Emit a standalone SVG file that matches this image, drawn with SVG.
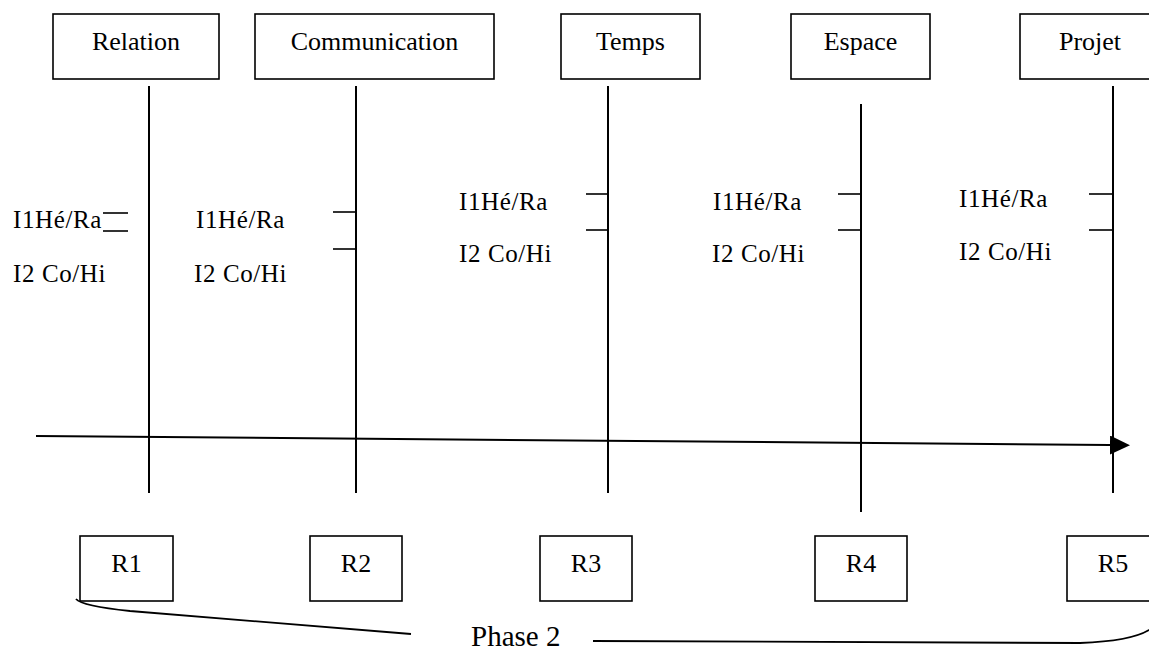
<svg xmlns="http://www.w3.org/2000/svg" width="1149" height="652" viewBox="0 0 1149 652">
  <style>
    .box { fill: #fff; stroke: #000; stroke-width: 1.6; }
    .head { font-family: "Liberation Serif", "Times New Roman", serif; font-size: 26px; fill: #000; text-anchor: middle; }
    .lbl { font-family: "Liberation Serif", "Times New Roman", serif; font-size: 25px; fill: #000; letter-spacing: 0.6px; }
    .phase { font-family: "Liberation Serif", "Times New Roman", serif; font-size: 29px; fill: #000; }
    .axis { stroke: #000; stroke-width: 2; fill: none; }
    .tick { stroke: #000; stroke-width: 1.6; fill: none; }
    .brace { stroke: #000; stroke-width: 1.8; fill: none; }
  </style>
  <defs>
    <marker id="arrowhead" markerUnits="userSpaceOnUse" markerWidth="22" markerHeight="22" refX="0" refY="9.5" orient="auto">
      <path d="M0,0 L20,9.5 L0,19 Z" fill="#000"/>
    </marker>
  </defs>

  <rect width="1149" height="652" fill="#fff"/>

  <!-- header dimensions -->
  <g id="relation">
    <rect class="box" x="53" y="14" width="166" height="65"/>
    <text class="head" x="136" y="50">Relation</text>
  </g>
  <g id="communication">
    <rect class="box" x="255" y="14" width="239" height="65"/>
    <text class="head" x="374.5" y="50">Communication</text>
  </g>
  <g id="temps">
    <rect class="box" x="561" y="14" width="139" height="65"/>
    <text class="head" x="630.5" y="50">Temps</text>
  </g>
  <g id="espace">
    <rect class="box" x="791" y="14" width="139" height="65"/>
    <text class="head" x="860.5" y="50">Espace</text>
  </g>
  <g id="projet">
    <rect class="box" x="1020" y="14" width="140" height="65"/>
    <text class="head" x="1090" y="50">Projet</text>
  </g>

  <!-- timelines, ticks, axis and the phase brace -->
  <g id="connectors">
    <line class="axis" x1="149" y1="86" x2="149" y2="493"/>
    <line class="axis" x1="356" y1="86" x2="356" y2="493"/>
    <line class="axis" x1="608" y1="86" x2="608" y2="493"/>
    <line class="axis" x1="861" y1="104" x2="861" y2="512"/>
    <line class="axis" x1="1113" y1="86" x2="1113" y2="493"/>

    <line class="tick" x1="103" y1="213" x2="128" y2="213"/>
    <line class="tick" x1="103" y1="231" x2="128" y2="231"/>
    <line class="tick" x1="333" y1="212" x2="356" y2="212"/>
    <line class="tick" x1="333" y1="249" x2="356" y2="249"/>
    <line class="tick" x1="586" y1="194" x2="608" y2="194"/>
    <line class="tick" x1="586" y1="230" x2="608" y2="230"/>
    <line class="tick" x1="838" y1="194" x2="861" y2="194"/>
    <line class="tick" x1="838" y1="230" x2="861" y2="230"/>
    <line class="tick" x1="1089" y1="194" x2="1113" y2="194"/>
    <line class="tick" x1="1089" y1="230" x2="1113" y2="230"/>

    <line class="axis" x1="36" y1="436" x2="1110" y2="445" marker-end="url(#arrowhead)"/>

    <path class="brace" d="M76,599 Q82,606 130,611 L411,634"/>
    <path class="brace" d="M593,641 L1080,643 Q1135,641 1152,628"/>
  </g>

  <!-- indicator labels per column -->
  <g id="col-relation">
    <text class="lbl" x="13" y="228">I1Hé/Ra</text>
    <text class="lbl" x="13" y="282">I2 Co/Hi</text>
  </g>
  <g id="col-communication">
    <text class="lbl" x="196" y="228">I1Hé/Ra</text>
    <text class="lbl" x="194" y="282">I2 Co/Hi</text>
  </g>
  <g id="col-temps">
    <text class="lbl" x="459" y="210">I1Hé/Ra</text>
    <text class="lbl" x="459" y="262">I2 Co/Hi</text>
  </g>
  <g id="col-espace">
    <text class="lbl" x="713" y="210">I1Hé/Ra</text>
    <text class="lbl" x="712" y="262">I2 Co/Hi</text>
  </g>
  <g id="col-projet">
    <text class="lbl" x="959" y="207">I1Hé/Ra</text>
    <text class="lbl" x="959" y="260">I2 Co/Hi</text>
  </g>

  <!-- results row -->
  <g id="r1">
    <rect class="box" x="80" y="536" width="93" height="65"/>
    <text class="head" x="126.5" y="572">R1</text>
  </g>
  <g id="r2">
    <rect class="box" x="310" y="536" width="92" height="65"/>
    <text class="head" x="356" y="572">R2</text>
  </g>
  <g id="r3">
    <rect class="box" x="540" y="536" width="92" height="65"/>
    <text class="head" x="586" y="572">R3</text>
  </g>
  <g id="r4">
    <rect class="box" x="815" y="536" width="92" height="65"/>
    <text class="head" x="861" y="572">R4</text>
  </g>
  <g id="r5">
    <rect class="box" x="1067" y="536" width="93" height="65"/>
    <text class="head" x="1113" y="572">R5</text>
  </g>

  <g id="phase-2">
    <text class="phase" x="471" y="646">Phase 2</text>
  </g>
</svg>
